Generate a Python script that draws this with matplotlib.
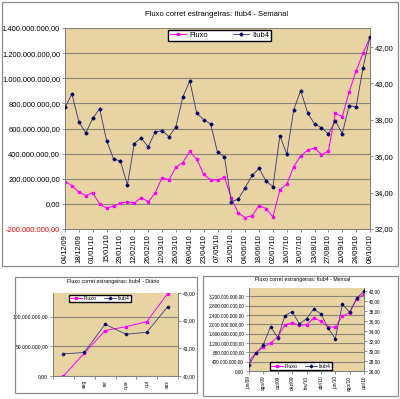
import matplotlib
matplotlib.use("Agg")
import matplotlib.pyplot as plt
from matplotlib.patches import Rectangle

plt.rcParams["font.family"] = ["Liberation Sans", "DejaVu Sans"]

W, H = 400, 399
FUNDO = "#E8D4A2"
GRADE = "#8a8575"
MAG = "#FF00FF"
AZUL = "#000066"
LINHA_AZUL = "#3c3c7a"

# ------------------------------------------------------------ dados
datas_sem = ["04/12/09", "18/12/09", "01/01/10", "15/01/10", "29/01/10",
             "12/02/10", "26/02/10", "12/03/10", "26/03/10", "09/04/10",
             "23/04/10", "07/05/10", "21/05/10", "04/06/10", "18/06/10",
             "02/07/10", "16/07/10", "30/07/10", "13/08/10", "27/08/10",
             "10/09/10", "24/09/10", "08/10/10"]
fluxo_sem = [178, 146, 93, 66, 88, -2, -34, -18, 6, 16, 6,
             50, 16, 85, 209, 191, 292, 329, 419, 356, 236, 191,
             191, 212, 45, -74, -109, -93, -14, -37, -103, 111, 157,
             297, 382, 427, 446, 393, 419, 722, 695, 892, 1059, 1200, 1324]
itub_sem = [38.68, 39.42, 37.89, 37.28, 38.08, 38.61, 36.86, 35.86, 35.73,
            34.42, 36.70, 37.01, 36.51, 37.33, 37.41, 37.07, 37.62, 39.26,
            40.14, 38.37, 38.01, 37.78, 36.23, 35.97, 33.50, 33.64, 34.28,
            34.95, 35.33, 34.64, 34.32, 37.14, 36.10, 38.56, 39.61, 38.39,
            37.77, 37.57, 37.23, 37.93, 37.25, 38.78, 38.72, 40.87, 42.56]

dias = ["", "seg", "ter", "qua", "qui", "sex"]
fluxo_dia = [0, 38.5, 76.5, 83.2, 91.6, 139.0]
itub_dia = [40.80, 40.85, 41.87, 41.51, 41.58, 42.50]

meses = ["jun/09", "ago/09", "out/09", "dez/09", "fev/10",
         "abr/10", "jun/10", "ago/10", "out/10"]
fluxo_mes = [429, 786, 1029, 1200, 1457, 1986, 2071, 1957, 1986,
             2271, 2143, 1886, 1886, 2357, 2500, 3100, 3286]
itub_mes = [27.27, 29.67, 31.27, 34.93, 32.67, 37.13, 37.93, 35.47, 36.47,
            38.47, 37.47, 34.67, 32.47, 39.40, 37.80, 40.67, 42.00]


# ------------------------------------------------------------ utilidades
def br(v):
    s = f"{v:,.2f}"
    return s.replace(",", "X").replace(".", ",").replace("X", ".")


def caixa(x0, y0, x1, y1):
    return [x0 / W, 1 - y1 / H, (x1 - x0) / W, (y1 - y0) / H]


def moldura(fig, x0, y0, x1, y1):
    fig.add_artist(Rectangle((x0 / W, 1 - y1 / H), (x1 - x0) / W,
                             (y1 - y0) / H, transform=fig.transFigure,
                             fill=False, ec="#8c8c8c", lw=0.9))


def painel(fig, box, fs):
    ax = fig.add_axes(caixa(*box))
    ax.set_facecolor(FUNDO)
    ax2 = ax.twinx()
    for a in (ax, ax2):
        for s in a.spines.values():
            s.set_color("#808080")
            s.set_linewidth(0.7)
        a.spines["top"].set_visible(False)
        a.tick_params(labelsize=fs, length=2, width=0.6, color="#808080",
                      pad=1.5)
    ax.yaxis.grid(True, color=GRADE, lw=0.8)
    ax.set_axisbelow(True)
    return ax, ax2


def series(ax, ax2, x, fl, it, lw=0.75, ms=1.8):
    l1, = ax.plot(x, fl, color=MAG, lw=lw, marker="s", ms=ms, mec=MAG,
                  zorder=3)
    l2, = ax2.plot(x, it, color=LINHA_AZUL, lw=lw * 0.85, marker="D",
                   ms=ms * 0.85, mfc=AZUL, mec=AZUL, zorder=3)
    return l1, l2


def legenda(fig, handles, box, fs):
    x0, y0, x1, y1 = box
    fig.legend(handles, ["Fluxo", "Itub4"], ncol=2, fontsize=fs,
               loc="center", mode="expand",
               bbox_to_anchor=caixa(x0, y0, x1, y1),
               frameon=True, fancybox=False, edgecolor="black",
               framealpha=1, borderpad=0.25, handlelength=2.2,
               handletextpad=0.4, columnspacing=1.0, borderaxespad=0)


fig = plt.figure(figsize=(W / 100, H / 100), dpi=100)
fig.patch.set_facecolor("white")

# ------------------------------------------------------------ semanal
moldura(fig, 2, 2, 398, 266)
ax, ax2 = painel(fig, (65, 28, 370, 229), 5.4)
x = list(range(len(fluxo_sem)))
h = series(ax, ax2, x, [v * 1e6 for v in fluxo_sem], itub_sem)
ax.set_xlim(0, len(x) - 1)
ax.set_xticks(range(0, len(x), 2))
ax.set_xticklabels(datas_sem, rotation=90, fontsize=5.3)
ticks = [v * 1e6 for v in range(-200, 1401, 200)]
ax.set_ylim(-200e6, 1400e6)
ax.set_yticks(ticks)
ax.set_yticklabels([br(t) for t in ticks])
ax.get_yticklabels()[0].set_color("red")
ax2.set_ylim(32, 43.05)
ax2.set_yticks(range(32, 43, 2))
ax2.set_yticklabels([br(t) for t in range(32, 43, 2)])
fig.text(217 / W, 1 - 14 / H, "Fluxo corret estrangeiras: Itub4 - Semanal",
         ha="center", va="center", fontsize=5.5)
legenda(fig, h, (168, 28, 271, 42), 5.4)

# ------------------------------------------------------------ diário
moldura(fig, 15, 277, 197, 393)
ax, ax2 = painel(fig, (53, 293, 178, 376), 3.6)
xd = [i + 0.5 for i in range(len(dias))]
h = series(ax, ax2, xd, [v * 1e6 for v in fluxo_dia], itub_dia,
           lw=0.7, ms=1.6)
ax.set_xlim(0, len(dias))
ax.set_xticks(xd)
ax.set_xticklabels(dias, rotation=90, fontsize=3.6)
ax.set_xticks(range(len(dias) + 1), minor=True)
ax.tick_params(axis="x", which="major", length=0, pad=3)
ax.tick_params(axis="x", which="minor", length=2, color="#808080")
ax.set_ylim(0, 140e6)
td = [0, 50e6, 100e6]
ax.set_yticks(td)
ax.set_yticklabels([br(t) for t in td])
ax2.set_ylim(40, 43)
ax2.set_yticks([40, 41, 42, 43])
ax2.set_yticklabels([br(t) for t in [40, 41, 42, 43]])
fig.text(113 / W, 1 - 281 / H, "Fluxo corret estrangeiras: Itub4 - Diário",
         ha="center", va="center", fontsize=3.8)
legenda(fig, h, (69, 293, 131, 304), 3.8)

# ------------------------------------------------------------ mensal
moldura(fig, 203, 276, 398, 396)
ax, ax2 = painel(fig, (249, 288, 364, 371), 3.4)
xm = list(range(len(fluxo_mes)))
h = series(ax, ax2, xm, [v * 1e6 for v in fluxo_mes], itub_mes,
           lw=0.7, ms=1.6)
ax.set_xlim(0, len(xm) - 1)
ax.set_xticks(range(0, len(xm), 2))
ax.set_xticklabels(meses, rotation=90, fontsize=3.4)
ax.set_ylim(0, 3.56e9)
tm = [v * 1e6 for v in range(0, 3201, 400)]
ax.set_yticks(tm)
ax.set_yticklabels([br(t) for t in tm])
ax2.set_ylim(26, 42.67)
ax2.set_yticks(range(26, 43, 2))
ax2.set_yticklabels([br(t) for t in range(26, 43, 2)])
fig.text(303 / W, 1 - 280 / H, "Fluxo corret estrangeiras: Itub4 - Mensal",
         ha="center", va="center", fontsize=3.8)
legenda(fig, h, (270, 361, 332, 371), 3.8)

fig.savefig("out.png", dpi=100)
